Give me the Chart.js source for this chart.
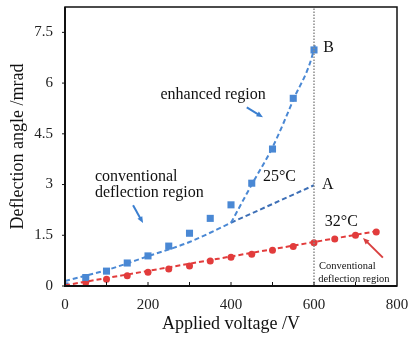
<!DOCTYPE html>
<html>
<head>
    <title>Deflection angle vs applied voltage</title>
    <script src="https://cdn.jsdelivr.net/npm/chart.js"></script>
    <style>
        html, body { margin: 0; padding: 0; background: #fff; }
        .wrap { width: 419px; height: 341px; }
    </style>
</head>
<body>
    <div class="wrap"><canvas id="chart" width="419" height="341"></canvas></div>
    <script>
        // measured points, 25°C (blue squares)
        const voltage25 = [0, 50, 100, 150, 200, 250, 300, 350, 400, 450, 500, 550, 600];
        const angle25 = [0, 0.25, 0.44, 0.68, 0.89, 1.18, 1.56, 2.0, 2.4, 3.04, 4.05, 5.55, 6.98];

        // measured points, 32°C (red circles)
        const voltage32 = [0, 50, 100, 150, 200, 250, 300, 350, 400, 450, 500, 550, 600, 650, 700, 750];
        const angle32 = [0, 0.1, 0.2, 0.3, 0.41, 0.5, 0.59, 0.74, 0.85, 0.94, 1.06, 1.17, 1.28, 1.39, 1.5, 1.6];

        // fit lines
        const convFitX = [0, 100, 200, 300, 400];
        const convFitY = [0.15, 0.47, 0.88, 1.3, 1.87];
        const enhFitX = [400, 450, 500, 550, 600, 603];
        const enhFitY = [1.87, 3.0, 4.1, 5.5, 7.0, 7.2];
        const lineAX = [400, 600];
        const lineAY = [1.87, 2.98];
        const fit32X = [0, 750];
        const fit32Y = [0.02, 1.62];

        const xTicks = [0, 200, 400, 600, 800];
        const yTicks = [0, 1.5, 3, 4.5, 6, 7.5];

        const SERIF = '"Liberation Serif", "Times New Roman", serif';
        const BLUE = '#4a88d4';
        const BLUE_DARK = '#3d6fb6';
        const RED = '#e23c3c';

        const pts = (xs, ys) => xs.map((x, i) => ({ x: x, y: ys[i] }));

        // text labels and arrows placed in data coordinates
        const labels = [
            { text: 'enhanced region', x: 357, y: 5.64, size: 16, align: 'center' },
            { text: 'conventional', x: 72, y: 3.22, size: 16, align: 'left' },
            { text: 'deflection region', x: 72, y: 2.77, size: 16, align: 'left' },
            { text: '25\u00B0C', x: 477, y: 3.22, size: 16, align: 'left' },
            { text: 'A', x: 619, y: 2.98, size: 16, align: 'left' },
            { text: 'B', x: 622, y: 7.03, size: 16, align: 'left' },
            { text: '32\u00B0C', x: 626, y: 1.9, size: 16, align: 'left' },
            { text: 'Conventional', x: 612, y: 0.57, size: 10.5, align: 'left' },
            { text: 'deflection region', x: 610, y: 0.21, size: 10.5, align: 'left' }
        ];
        const arrows = [
            { from: [438, 5.28], to: [477, 4.99], color: '#3b7fd0' },
            { from: [164, 2.39], to: [188, 1.86], color: '#3b7fd0' },
            { from: [766, 0.84], to: [718, 1.42], color: '#d94040' }
        ];

        const decor = {
            id: 'decor',
            afterDatasetsDraw(chart) {
                const ctx = chart.ctx;
                const a = chart.chartArea;
                const xs = chart.scales.x, ys = chart.scales.y;
                ctx.save();
                // frame
                ctx.strokeStyle = '#111';
                ctx.lineWidth = 1.5;
                ctx.strokeRect(a.left, a.top, a.right - a.left, a.bottom - a.top);
                ctx.lineWidth = 2;
                ctx.beginPath();
                ctx.moveTo(a.left, a.top);
                ctx.lineTo(a.left, a.bottom);
                ctx.lineTo(a.right, a.bottom);
                ctx.stroke();
                // inward minor ticks on x, outward ticks on y
                ctx.lineWidth = 1;
                for (let v = 100; v < 800; v += 100) {
                    const px = xs.getPixelForValue(v);
                    ctx.beginPath();
                    ctx.moveTo(px, a.bottom);
                    ctx.lineTo(px, a.bottom - 4);
                    ctx.stroke();
                }
                yTicks.forEach(v => {
                    const py = ys.getPixelForValue(v);
                    ctx.beginPath();
                    ctx.moveTo(a.left - 3, py);
                    ctx.lineTo(a.left, py);
                    ctx.stroke();
                });
                // texts
                ctx.fillStyle = '#111';
                ctx.textBaseline = 'middle';
                labels.forEach(l => {
                    ctx.font = l.size + 'px ' + SERIF;
                    ctx.textAlign = l.align;
                    ctx.fillText(l.text, xs.getPixelForValue(l.x), ys.getPixelForValue(l.y));
                });
                // arrows
                arrows.forEach(ar => {
                    const x1 = xs.getPixelForValue(ar.from[0]), y1 = ys.getPixelForValue(ar.from[1]);
                    const x2 = xs.getPixelForValue(ar.to[0]), y2 = ys.getPixelForValue(ar.to[1]);
                    const ang = Math.atan2(y2 - y1, x2 - x1);
                    const hl = 7;
                    ctx.strokeStyle = ar.color;
                    ctx.fillStyle = ar.color;
                    ctx.lineWidth = 2;
                    ctx.beginPath();
                    ctx.moveTo(x1, y1);
                    ctx.lineTo(x2 - Math.cos(ang) * hl * 0.8, y2 - Math.sin(ang) * hl * 0.8);
                    ctx.stroke();
                    ctx.beginPath();
                    ctx.moveTo(x2, y2);
                    ctx.lineTo(x2 - hl * Math.cos(ang - 0.4), y2 - hl * Math.sin(ang - 0.4));
                    ctx.lineTo(x2 - hl * Math.cos(ang + 0.4), y2 - hl * Math.sin(ang + 0.4));
                    ctx.closePath();
                    ctx.fill();
                });
                ctx.restore();
            }
        };

        const dashed = (data, color) => ({
            type: 'line',
            data: data,
            borderColor: color,
            borderWidth: 2,
            borderDash: [5, 3],
            pointRadius: 0,
            fill: false,
            cubicInterpolationMode: 'monotone'
        });

        new Chart(document.getElementById('chart').getContext('2d'), {
            type: 'scatter',
            data: {
                datasets: [
                    {
                        type: 'line',
                        data: [{ x: 600, y: 0 }, { x: 600, y: 8.25 }],
                        borderColor: '#8a8a8a',
                        borderWidth: 1.5,
                        borderDash: [1.5, 1.5],
                        pointRadius: 0
                    },
                    dashed(pts(convFitX, convFitY), BLUE),
                    dashed(pts(enhFitX, enhFitY), BLUE),
                    dashed(pts(lineAX, lineAY), BLUE_DARK),
                    dashed(pts(fit32X, fit32Y), RED),
                    {
                        data: pts(voltage25, angle25),
                        pointStyle: 'rect',
                        pointRadius: 5,
                        backgroundColor: BLUE,
                        borderColor: BLUE,
                        borderWidth: 0
                    },
                    {
                        data: pts(voltage32, angle32),
                        pointStyle: 'circle',
                        pointRadius: 3.5,
                        backgroundColor: RED,
                        borderColor: RED,
                        borderWidth: 0
                    }
                ]
            },
            options: {
                responsive: false,
                animation: false,
                layout: { padding: { top: 7, right: 22, bottom: 6, left: 0 } },
                plugins: { legend: { display: false }, tooltip: { enabled: false } },
                scales: {
                    x: {
                        type: 'linear',
                        min: 0,
                        max: 800,
                        afterBuildTicks: s => { s.ticks = xTicks.map(v => ({ value: v })); },
                        afterFit: s => { s.height = 49; s.paddingLeft = 0; s.paddingRight = 0; },
                        grid: { display: false, drawTicks: false },
                        border: { display: false },
                        ticks: { color: '#222', padding: 10, font: { family: SERIF, size: 15 } },
                        title: {
                            display: true,
                            text: 'Applied voltage /V',
                            color: '#111',
                            padding: { top: 0, bottom: 0 },
                            font: { family: SERIF, size: 18 }
                        }
                    },
                    y: {
                        type: 'linear',
                        min: 0,
                        max: 8.25,
                        afterBuildTicks: s => { s.ticks = yTicks.map(v => ({ value: v })); },
                        afterFit: s => { s.width = 65; s.paddingTop = 0; s.paddingBottom = 0; },
                        grid: { display: false, drawTicks: false },
                        border: { display: false },
                        ticks: { color: '#222', padding: 12, font: { family: SERIF, size: 15 } },
                        title: {
                            display: true,
                            text: 'Deflection angle /mrad',
                            color: '#111',
                            padding: { top: 7, bottom: 0 },
                            font: { family: SERIF, size: 18 }
                        }
                    }
                }
            },
            plugins: [decor]
        });
    </script>
</body>
</html>
